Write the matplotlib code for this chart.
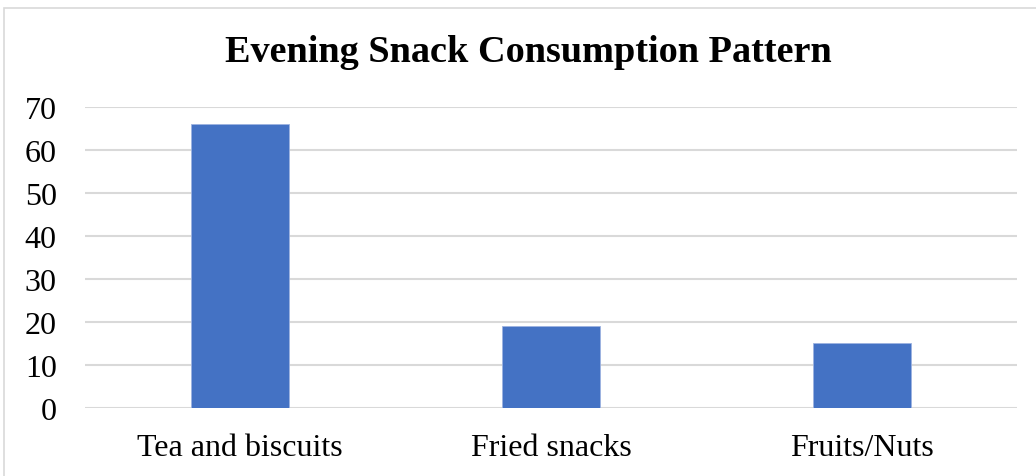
import matplotlib.pyplot as plt
from matplotlib.patches import Rectangle

categories = ['Tea and biscuits', 'Fried snacks', 'Fruits/Nuts']
values = [66, 19, 15.2]
yticks = [0, 10, 20, 30, 40, 50, 60, 70]

plt.rcParams['font.family'] = ['Liberation Serif', 'DejaVu Serif']

fig = plt.figure(figsize=(10.36, 4.77), dpi=100)
ax = fig.add_axes([0.0816, 0.1426, 0.9004, 0.631])

# chart border, partly clipped at the right and bottom
fig.patches.append(Rectangle((4 / 1036, -0.05), 1.1, 1 - 9 / 477 + 0.05,
                             transform=fig.transFigure, fill=False,
                             edgecolor='#d9d9d9', linewidth=1.2))

ax.bar(range(len(categories)), values, width=0.315, color='#4472c4',
       edgecolor='#9db3e0', linewidth=0.6, zorder=3)
ax.set_xlim(-0.5, len(categories) - 0.5)
ax.set_ylim(0, 70)
ax.set_yticks(yticks)
ax.set_xticks(range(len(categories)))
ax.set_xticklabels(categories)
ax.grid(axis='y', color='#d9d9d9', linewidth=1.5, zorder=0)
for s in ax.spines.values():
    s.set_visible(False)
ax.tick_params(axis='both', length=0, labelsize=23, colors='#000000')
ax.tick_params(axis='y', pad=20)
ax.tick_params(axis='x', pad=18)

fig.text(0.51, 1 - 52 / 477, 'Evening Snack Consumption Pattern',
         ha='center', va='center', fontsize=27.5, fontweight='bold')

fig.savefig('out.png', dpi=100)
